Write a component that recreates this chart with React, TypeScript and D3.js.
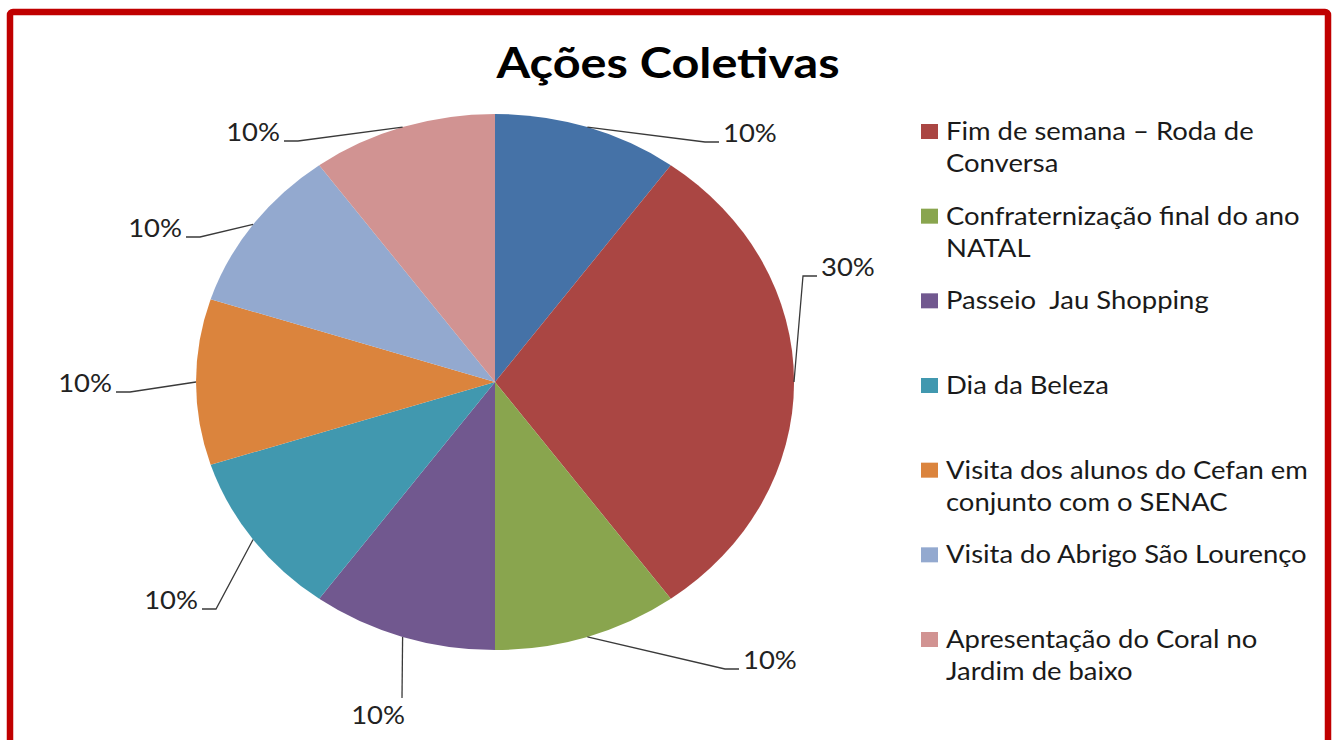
import * as d3 from 'd3';

// slice names (first slice has no legend entry in the original)
const categories = [
  '',
  'Fim de semana – Roda de\nConversa',
  'Confraternização final do ano\nNATAL',
  'Passeio  Jau Shopping',
  'Dia da Beleza',
  'Visita dos alunos do Cefan em\nconjunto com o SENAC',
  'Visita do Abrigo São Lourenço',
  'Apresentação do Coral no\nJardim de baixo',
];
const values = [10, 30, 10, 10, 10, 10, 10, 10];
const colors = ['#4572A7', '#AA4643', '#89A54E', '#71588F', '#4198AF', '#DB843D', '#93A9CF', '#D19392'];

// where each leader line bends, relative to the pie centre
const labelElbows = [
  [210, -240], [308, -106], [230, 287], [-93, 316],
  [-279, 227], [-365, 10], [-295, -145], [-197, -241],
];

const W = 1335;
const H = 740;
const cx = 495;
const cy = 382;
const rx = 299;
const ry = 268;
const font = 'Lato, "Open Sans", sans-serif';
const fs = 24.5;
const stretch = 1.12; // the original picture is stretched horizontally

export default function App() {
  const total = d3.sum(values);
  const pct = d3.format('.0%');
  const pie = d3.pie<number>().sort(null).value((d) => d);
  const arcs = pie(values);
  const arc = d3.arc<d3.PieArcDatum<number>>().innerRadius(0).outerRadius(1);

  const legendItems = categories
    .map((name, i) => ({ name, color: colors[i] }))
    .filter((d) => d.name !== '');
  const legendY = d3.scaleLinear().domain([0, legendItems.length - 1]).range([140, 648]);

  const hstretch = (x: number) => `translate(${x},0) scale(${stretch},1) translate(${-x},0)`;

  return (
    <svg width={W} height={H} style={{ position: 'absolute', left: 0, top: 0, background: '#fff' }}>
      <rect x={10} y={12} width={1318} height={760} rx={3} fill="none" stroke="#C00000" strokeWidth={6.5} />

      <text x={668} y={78} textAnchor="middle" fontFamily={font} fontWeight={700} fontSize={42}
        textLength={343} lengthAdjust="spacingAndGlyphs" fill="#000">
        Ações Coletivas
      </text>

      <g transform={`translate(${cx},${cy}) scale(${rx},${ry})`}>
        {arcs.map((a, i) => (
          <path key={i} d={arc(a) || ''} fill={colors[i]} />
        ))}
      </g>

      {arcs.map((a, i) => {
        const mid = (a.startAngle + a.endAngle) / 2;
        const sx = cx + rx * Math.sin(mid);
        const sy = cy - ry * Math.cos(mid);
        const ex = cx + labelElbows[i][0];
        const ey = cy + labelElbows[i][1];
        const below = Math.abs(ex - sx) < 5;
        const right = ex > cx;
        const stub = below ? 0 : right ? 14 : -14;
        const text = pct(a.data / total);
        let tx = ex + stub + (right ? 4 : -4);
        let ty = ey;
        let anchor = right ? 'start' : 'end';
        if (below) {
          tx = ex + 3;
          ty = ey + 26;
          anchor = 'end';
        }
        return (
          <g key={i}>
            <polyline points={`${sx},${sy} ${ex},${ey} ${ex + stub},${ey}`} fill="none" stroke="#3a3a3a" strokeWidth={1.3} />
            <text x={tx} y={ty} textAnchor={anchor} fontFamily={font} fontSize={fs} fill="#222"
              transform={hstretch(tx)}>
              {text}
            </text>
          </g>
        );
      })}

      {legendItems.map((d, i) => {
        const y = legendY(i);
        const lines = d.name.split('\n');
        return (
          <g key={i}>
            <rect x={921} y={y - 16} width={17} height={15} fill={d.color} />
            {lines.map((line, j) => (
              <text key={j} x={946} y={y + j * 32} fontFamily={font} fontSize={fs} fill="#1a1a1a"
                style={{ whiteSpace: 'pre' }} transform={hstretch(946)}>
                {line}
              </text>
            ))}
          </g>
        );
      })}
    </svg>
  );
}
